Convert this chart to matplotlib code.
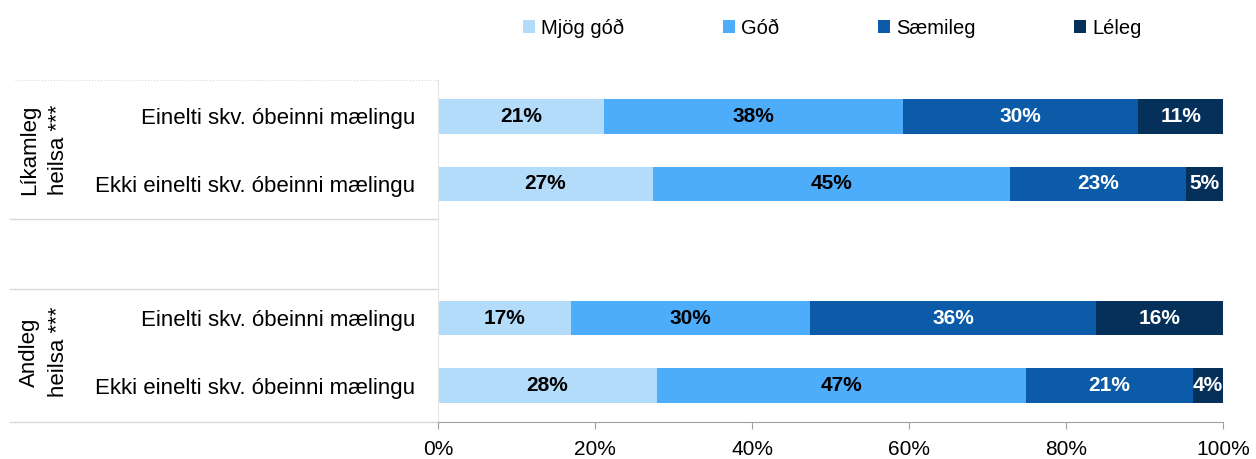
import matplotlib
matplotlib.use("Agg")
import matplotlib.pyplot as plt
import matplotlib.transforms as mtransforms

plt.rcParams['font.family'] = ['Liberation Sans', 'DejaVu Sans']

# data (percent, rows top to bottom)
categories = ['Mjög góð', 'Góð', 'Sæmileg', 'Léleg']
row_labels = ['Einelti skv. óbeinni mælingu', 'Ekki einelti skv. óbeinni mælingu',
              'Einelti skv. óbeinni mælingu', 'Ekki einelti skv. óbeinni mælingu']
group_labels = ['Líkamleg\nheilsa ***', 'Andleg\nheilsa ***']
mjog_god = [21.1, 27.4, 16.9, 27.9]
god = [38.1, 45.5, 30.5, 47.0]
saemileg = [30.0, 22.4, 36.4, 21.3]
leleg = [10.8, 4.7, 16.2, 3.8]
bar_text = [
    ['21%', '38%', '30%', '11%'],
    ['27%', '45%', '23%', '5%'],
    ['17%', '30%', '36%', '16%'],
    ['28%', '47%', '21%', '4%'],
]
xticks = [0, 20, 40, 60, 80, 100]

colors = ['#b3dcfb', '#4eadfa', '#0b5ba8', '#04305a']
text_colors = ['black', 'black', 'white', 'white']

ypos = [0, 1, 3, 4]

fig = plt.figure(figsize=(12.56, 4.59), dpi=100)
ax = fig.add_axes([438 / 1256, 37 / 459, 785 / 1256, 342 / 459])

series = [mjog_god, god, saemileg, leleg]
left = [0.0] * 4
for i, (vals, name) in enumerate(zip(series, categories)):
    bars = ax.barh(ypos, vals, left=left, height=0.51, color=colors[i], label=name)
    for j, b in enumerate(bars):
        cx = b.get_x() + b.get_width() / 2
        ax.text(cx, ypos[j], bar_text[j][i], ha='center', va='center',
                color=text_colors[i], fontsize=15, fontweight='bold')
    left = [l + v for l, v in zip(left, vals)]

ax.set_xlim(0, 100)
ax.set_ylim(4.54, -0.54)
ax.set_xticks(xticks)
ax.set_xticklabels([f'{t}%' for t in xticks], fontsize=15)
ax.set_yticks(ypos)
ax.set_yticklabels(row_labels, fontsize=16)
ax.tick_params(axis='y', length=0, pad=16.5)
ax.tick_params(axis='x', length=5, color='#a0a0a0', pad=8)

for s in ['top', 'right']:
    ax.spines[s].set_visible(False)
ax.spines['left'].set_color('#e6e6e6')
ax.spines['bottom'].set_color('#a0a0a0')

# group separators in the label area
trans = mtransforms.blended_transform_factory(ax.transAxes, ax.transData)
x0 = (10 - 438) / 785
ax.plot([(15 - 438) / 785, 0], [-0.54, -0.54], transform=trans, clip_on=False,
        color='#d8d8d8', lw=0.8, ls=':')
for y in [1.52, 2.56, 4.54]:
    ax.plot([x0, 0], [y, y], transform=trans, clip_on=False, color='#d8d8d8', lw=1)

for k, yc in enumerate([0.5, 3.5]):
    ax.text((44 - 438) / 785, yc, group_labels[k], transform=trans, rotation=90,
            ha='center', va='center', multialignment='center', fontsize=16,
            linespacing=1.5)

fig.legend(loc='center', bbox_to_anchor=(832 / 1256, 1 - 28 / 459), ncol=4, frameon=False,
           fontsize=14.5, handlelength=0.6, handleheight=0.6, handletextpad=0.3,
           columnspacing=4.9)

fig.savefig('out.png', dpi=100)
